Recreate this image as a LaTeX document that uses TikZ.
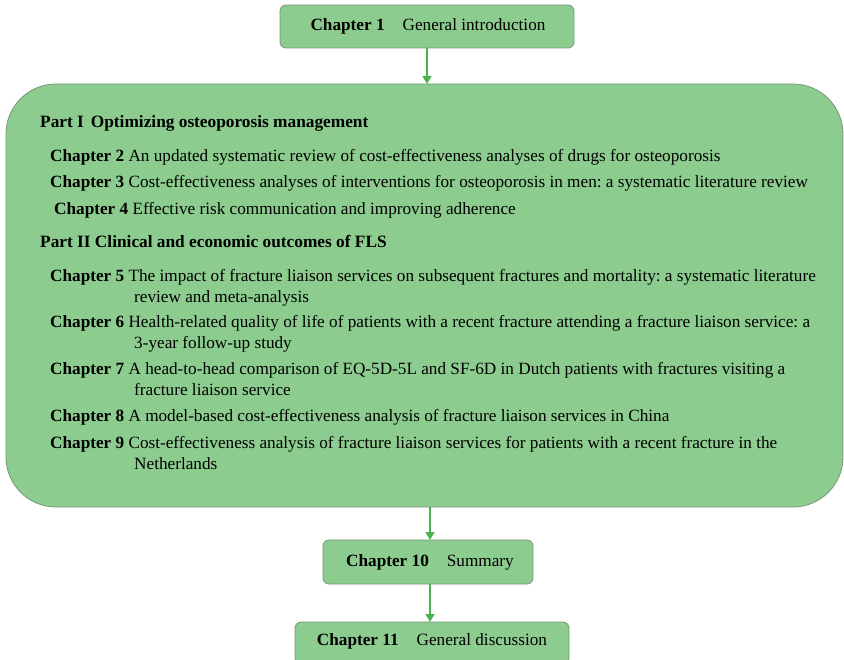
\documentclass[tikz,border=0pt]{standalone}
\usepackage{fontspec}
\setmainfont{Liberation Serif}
\usetikzlibrary{arrows.meta}
\definecolor{boxfill}{RGB}{140,204,142}
\definecolor{boxline}{RGB}{120,150,125}
\definecolor{arrowgreen}{RGB}{76,178,80}
\tikzset{
  x=1pt, y=-1pt,
  chapbox/.style={draw=boxline, line width=0.8pt, fill=boxfill, rounded corners=6pt},
  flow/.style={draw=arrowgreen, line width=1.4pt, -{Triangle[length=8pt,width=9pt]}},
  title/.style={font=\fontsize{17.2}{20}\selectfont\frenchspacing, inner sep=0pt},
  entry/.style={font=\fontsize{17.2}{20.5}\selectfont\frenchspacing, inner sep=0pt, anchor=base west},
  parthead/.style={font=\fontsize{17.3}{20.5}\selectfont\bfseries\frenchspacing, inner sep=0pt, anchor=base west},
}
\begin{document}
\begin{tikzpicture}
\useasboundingbox (0,0) rectangle (844,660);

% top box: Chapter 1
\path[chapbox] (280,5) rectangle (574,48);
\node[title] (c1) at (428,26) {\textbf{Chapter 1}\hspace{18pt}General introduction};
\coordinate (c1b) at (427,48);

% central part box
\path[chapbox, rounded corners=50pt] (6,84) rectangle (843,507);
\coordinate (pt) at (427,84);
\coordinate (pb) at (430,507);

\node[parthead] (p1) at (40,128) {Part I\hspace{7pt}Optimizing osteoporosis management};
\node[entry] (ch2) at (50,162) {\textbf{Chapter 2} An updated systematic review of cost-effectiveness analyses of drugs for osteoporosis};
\node[entry] (ch3) at (50,188) {\textbf{Chapter 3} Cost-effectiveness analyses of interventions for osteoporosis in men: a systematic literature review};
\node[entry] (ch4) at (54,215) {\textbf{Chapter 4} Effective risk communication and improving adherence};
\node[parthead] (p2) at (40,248) {Part II Clinical and economic outcomes of FLS};

\node[entry] (ch5) at (50,282) {\textbf{Chapter 5} The impact of fracture liaison services on subsequent fractures and mortality: a systematic literature};
\node[entry] (ch5b) at (134,303) {review and meta-analysis};
\node[entry] (ch6) at (50,328) {\textbf{Chapter 6} Health-related quality of life of patients with a recent fracture attending a fracture liaison service: a};
\node[entry] (ch6b) at (134,349) {3-year follow-up study};
\node[entry] (ch7) at (50,375) {\textbf{Chapter 7} A head-to-head comparison of EQ-5D-5L and SF-6D in Dutch patients with fractures visiting a};
\node[entry] (ch7b) at (134,396) {fracture liaison service};
\node[entry] (ch8) at (50,422) {\textbf{Chapter 8} A model-based cost-effectiveness analysis of fracture liaison services in China};
\node[entry] (ch9) at (50,448) {\textbf{Chapter 9} Cost-effectiveness analysis of fracture liaison services for patients with a recent fracture in the};
\node[entry] (ch9b) at (134,469) {Netherlands};

% Chapter 10
\path[chapbox] (323,540) rectangle (533,584);
\node[title] (c10) at (430,562) {\textbf{Chapter 10}\hspace{18pt}Summary};
\coordinate (c10t) at (430,540);
\coordinate (c10b) at (430,584);

% Chapter 11
\path[chapbox] (295,622) rectangle (569,664);
\node[title] (c11) at (432,641) {\textbf{Chapter 11}\hspace{18pt}General discussion};
\coordinate (c11t) at (430,622);

% connectors
\draw[flow] (c1b) -- (pt);
\draw[flow] (pb) -- (c10t);
\draw[flow] (c10b) -- (c11t);
\end{tikzpicture}
\end{document}
